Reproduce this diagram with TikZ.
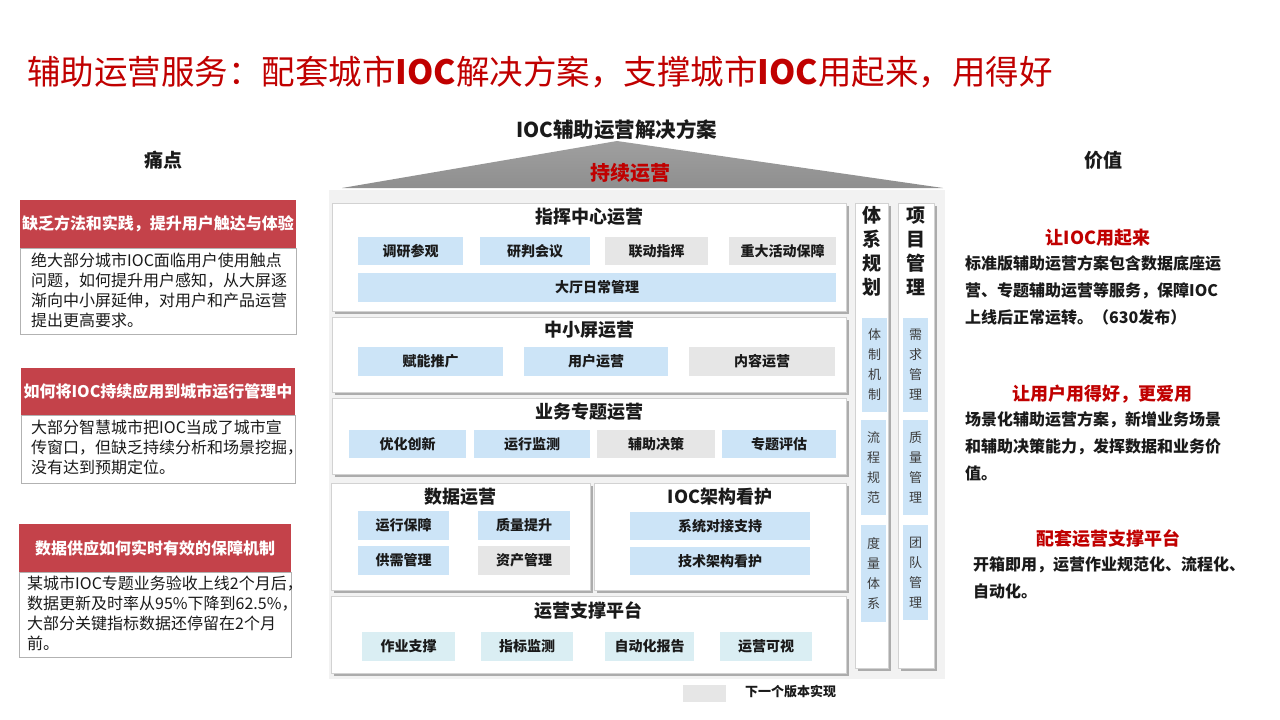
\documentclass[tikz,border=0pt]{standalone}
\usepackage{fontspec}
\setmainfont{Noto Sans CJK SC}
\definecolor{Titlered}{HTML}{C00000}
\definecolor{Headred}{HTML}{C4424A}
\definecolor{Subblue}{HTML}{CCE4F7}
\definecolor{Subgray}{HTML}{E6E6E6}
\definecolor{Subcyan}{HTML}{DAEEF3}
\definecolor{Framebg}{HTML}{F2F2F2}
\definecolor{Textcol}{HTML}{1A1A1A}
\usetikzlibrary{shadows}
\tikzset{
    mainbox/.style={draw=gray!35, fill=white, inner sep=0pt,
        drop shadow={shadow xshift=2.5pt, shadow yshift=-2.5pt, fill=gray!65, opacity=1}},
    maintitle/.style={inner sep=0pt, text=Textcol, font=\fontsize{18}{20}\selectfont\bfseries},
    subbox/.style={fill=Subblue, inner sep=0pt, text=Textcol, font=\fontsize{14}{16}\selectfont\bfseries},
    nextbox/.style={subbox, fill=Subgray},
    platbox/.style={subbox, fill=Subcyan},
    vertbox/.style={fill=Subblue, inner sep=0pt, align=center, text=Textcol!85, font=\fontsize{13}{20}\selectfont},
    headbox/.style={fill=Headred, inner sep=0pt, text=white, font=\fontsize{16}{18}\selectfont\bfseries},
    bodybox/.style={draw=gray!60, fill=white, inner sep=0pt},
    bodytext/.style={inner sep=0pt, align=left, text=Textcol, font=\fontsize{16}{20}\selectfont},
    valtitle/.style={inner sep=0pt, text=Titlered, font=\fontsize{18}{20}\selectfont\bfseries},
    valtext/.style={inner sep=0pt, align=left, text=Textcol, font=\fontsize{16}{27}\selectfont\bfseries}
}
\begin{document}
\begin{tikzpicture}[x=1pt, y=-1pt]
    \useasboundingbox (0,0) rectangle (1280,720);

    % Page title
    \node[inner sep=0pt, text=Titlered, font=\fontsize{33.5}{36}\selectfont, anchor=west] (title) at (27,72)
        {辅助运营服务：配套城市\textbf{IOC}解决方案，支撑城市\textbf{IOC}用起来，用得好};

    % Column headings
    \node[maintitle, font=\fontsize{19}{20}\selectfont\bfseries] (pain) at (163,160) {痛点};
    \node[maintitle, font=\fontsize{19}{20}\selectfont\bfseries] (value) at (1103,160) {价值};
    \node[maintitle, font=\fontsize{20.5}{22}\selectfont\bfseries] (roof) at (617,130) {IOC辅助运营解决方案};

    % Roof
    \coordinate (apex) at (617,141);
    \coordinate (BL) at (342,188);
    \coordinate (BR) at (943,188);
    \shade[top color=gray!75, bottom color=gray!88] (apex) -- (BR) -- (BL) -- cycle;
    \node[inner sep=0pt, text=Titlered, font=\fontsize{20}{22}\selectfont\bfseries] (keep) at (630,173) {持续运营};

    % House frame
    \fill[Framebg] (329,190) rectangle (945,679);

    % Main blocks
    \node[mainbox, minimum width=514, minimum height=108] (cmd) at (589,257) {};
    \node[mainbox, minimum width=514, minimum height=75] (scr) at (589,354.5) {};
    \node[mainbox, minimum width=514, minimum height=76] (biz) at (589,436) {};
    \node[mainbox, minimum width=259, minimum height=107] (dat) at (460.5,536.5) {};
    \node[mainbox, minimum width=252, minimum height=107] (arc) at (720,536.5) {};
    \node[mainbox, minimum width=515, minimum height=77] (plat) at (588.5,634.5) {};
    \node[mainbox, minimum width=33, minimum height=465] (sys) at (871.5,435.5) {};
    \node[mainbox, minimum width=36, minimum height=465] (prj) at (916,435.5) {};

    % 指挥中心运营
    \node[maintitle] (cmdt) at (589,217) {指挥中心运营};
    \node[subbox, minimum width=105, minimum height=28] (c1) at (410.5,251) {调研参观};
    \node[subbox, minimum width=110, minimum height=28] (c2) at (535,251) {研判会议};
    \node[nextbox, minimum width=103, minimum height=28] (c3) at (656.5,251) {联动指挥};
    \node[nextbox, minimum width=107, minimum height=28] (c4) at (782.5,251) {重大活动保障};
    \node[subbox, minimum width=478, minimum height=29] (c5) at (597,287.5) {大厅日常管理};

    % 中小屏运营
    \node[maintitle] (scrt) at (589,330) {中小屏运营};
    \node[subbox, minimum width=145, minimum height=29] (s1) at (430.5,361.5) {赋能推广};
    \node[subbox, minimum width=144, minimum height=29] (s2) at (596,361.5) {用户运营};
    \node[nextbox, minimum width=146, minimum height=29] (s3) at (762,361.5) {内容运营};

    % 业务专题运营
    \node[maintitle] (bizt) at (589,412) {业务专题运营};
    \node[subbox, minimum width=117, minimum height=28] (b1) at (407.5,444) {优化创新};
    \node[subbox, minimum width=116, minimum height=28] (b2) at (532,444) {运行监测};
    \node[nextbox, minimum width=118, minimum height=28] (b3) at (656,444) {辅助决策};
    \node[subbox, minimum width=114, minimum height=28] (b4) at (779,444) {专题评估};

    % 数据运营
    \node[maintitle] (datt) at (460.5,497) {数据运营};
    \node[subbox, minimum width=91, minimum height=29] (d1) at (403.5,525.5) {运行保障};
    \node[subbox, minimum width=92, minimum height=29] (d2) at (524,525.5) {质量提升};
    \node[subbox, minimum width=91, minimum height=29] (d3) at (403.5,560.5) {供需管理};
    \node[nextbox, minimum width=92, minimum height=29] (d4) at (524,560.5) {资产管理};

    % IOC架构看护
    \node[maintitle] (arct) at (720,497) {IOC架构看护};
    \node[subbox, minimum width=180, minimum height=28] (a1) at (720,526) {系统对接支持};
    \node[subbox, minimum width=180, minimum height=28] (a2) at (720,561) {技术架构看护};

    % 运营支撑平台
    \node[maintitle] (platt) at (588.5,611) {运营支撑平台};
    \node[platbox, minimum width=93, minimum height=29] (p1) at (408.5,646.5) {作业支撑};
    \node[platbox, minimum width=92, minimum height=29] (p2) at (527,646.5) {指标监测};
    \node[platbox, minimum width=89, minimum height=29] (p3) at (649.5,646.5) {自动化报告};
    \node[platbox, minimum width=92, minimum height=29] (p4) at (766,646.5) {运营可视};

    % 体系规划 / 项目管理
    \node[maintitle, align=center, font=\fontsize{19}{24}\selectfont\bfseries] (syst) at (871.5,251) {体\\系\\规\\划};
    \node[maintitle, align=center, font=\fontsize{19}{24}\selectfont\bfseries] (prjt) at (916,251) {项\\目\\管\\理};
    \node[vertbox, minimum width=25, minimum height=94] (y1) at (874.5,365) {体\\制\\机\\制};
    \node[vertbox, minimum width=25, minimum height=95] (y2) at (873.5,467.5) {流\\程\\规\\范};
    \node[vertbox, minimum width=25, minimum height=97] (y3) at (873.5,573.5) {度\\量\\体\\系};
    \node[vertbox, minimum width=25, minimum height=94] (m1) at (915.5,365) {需\\求\\管\\理};
    \node[vertbox, minimum width=25, minimum height=95] (m2) at (915.5,467.5) {质\\量\\管\\理};
    \node[vertbox, minimum width=25, minimum height=95] (m3) at (915.5,572.5) {团\\队\\管\\理};

    % Legend
    \node[fill=Subgray, minimum width=43, minimum height=17, inner sep=0pt] (lg) at (704.5,693.5) {};
    \node[inner sep=0pt, anchor=west, text=Textcol, font=\fontsize{13}{14}\selectfont\bfseries] (lgt) at (745,692) {下一个版本实现};

    % Pain points
    \node[headbox, minimum width=276, minimum height=48] (h1) at (158,224) {缺乏方法和实践，提升用户触达与体验};
    \node[bodybox, minimum width=276, minimum height=86, anchor=north] (w1) at (h1.south) {};
    \node[bodytext, anchor=north west] (t1) at (31,253)
        {绝大部分城市IOC面临用户使用触点\\问题，如何提升用户感知，从大屏逐\\渐向中小屏延伸，对用户和产品运营\\提出更高要求。};

    \node[headbox, minimum width=274, minimum height=47] (h2) at (158,391.5) {如何将IOC持续应用到城市运行管理中};
    \node[bodybox, minimum width=274, minimum height=68, anchor=north] (w2) at (h2.south) {};
    \node[bodytext, anchor=north west] (t2) at (31,420)
        {大部分智慧城市把IOC当成了城市宣\\传窗口，但缺乏持续分析和场景挖掘，\\没有达到预期定位。};

    \node[headbox, minimum width=272, minimum height=48] (h3) at (155,548) {数据供应如何实时有效的保障机制};
    \node[bodybox, minimum width=272, minimum height=85, anchor=north] (w3) at (h3.south) {};
    \node[bodytext, anchor=north west] (t3) at (27,576)
        {某城市IOC专题业务验收上线2个月后，\\数据更新及时率从95\%下降到62.5\%，\\大部分关键指标数据还停留在2个月\\前。};

    % Values
    \node[valtitle] (v1) at (1098,238) {让IOC用起来};
    \node[valtext, anchor=north west] (u1) at (965,255)
        {标准版辅助运营方案包含数据底座运\\营、专题辅助运营等服务，保障IOC\\上线后正常运转。（630发布）};
    \node[valtitle] (v2) at (1102,394) {让用户用得好，更爱用};
    \node[valtext, anchor=north west] (u2) at (965,411)
        {场景化辅助运营方案，新增业务场景\\和辅助决策能力，发挥数据和业务价\\值。};
    \node[valtitle] (v3) at (1108,539) {配套运营支撑平台};
    \node[valtext, anchor=north west] (u3) at (973,556)
        {开箱即用，运营作业规范化、流程化、\\自动化。};
\end{tikzpicture}
\end{document}
